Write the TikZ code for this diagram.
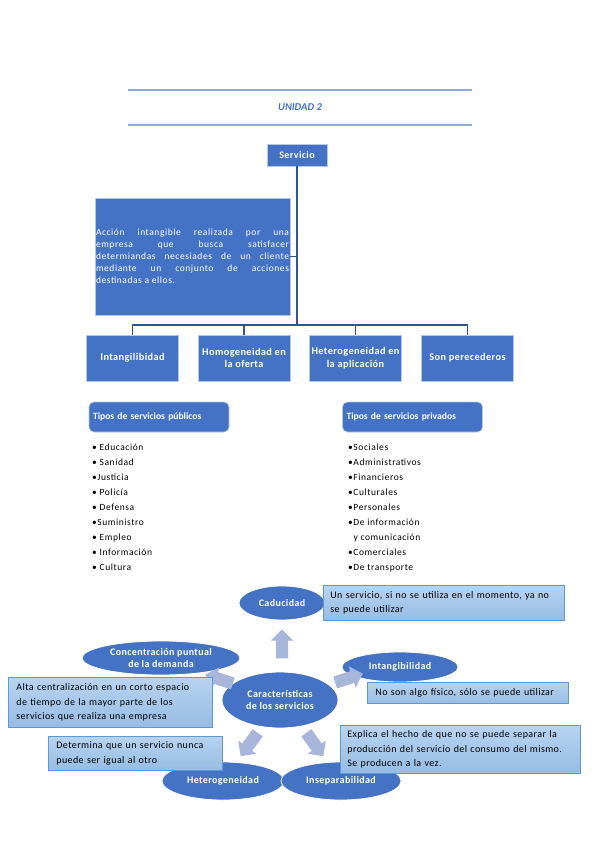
\documentclass[tikz,border=0pt]{standalone}
\usepackage{fontspec}
\setmainfont{Carlito}
\usetikzlibrary{positioning,shapes.geometric,shapes.arrows}

\definecolor{mainblue}{RGB}{68,114,196}
\definecolor{linkblue}{RGB}{47,85,151}
\definecolor{ruleblue}{RGB}{143,170,220}
\definecolor{edgeblue}{RGB}{180,199,231}
\definecolor{noteedge}{RGB}{91,155,213}
\definecolor{notetop}{RGB}{184,211,239}
\definecolor{notebot}{RGB}{150,188,228}
\definecolor{arrowblue}{RGB}{169,182,219}

\newcommand\hdfont{\fontsize{10}{12}\selectfont\bfseries\addfontfeature{LetterSpace=4}}
\newcommand\notefont{\fontsize{10}{14.5}\selectfont\addfontfeature{LetterSpace=4}}
\newcommand\listfont{\fontsize{9.5}{15}\selectfont\addfontfeature{LetterSpace=6}}

\begin{document}
\begin{tikzpicture}[x=1pt, y=-1pt,
    rulebar/.style={draw=ruleblue, line width=1.3pt},
    topbox/.style={draw=edgeblue, line width=0.6pt, fill=mainblue, text=white, font=\hdfont, align=center, inner sep=2pt},
    catbox/.style={topbox, font=\fontsize{10.3}{12.5}\selectfont\bfseries\addfontfeature{LetterSpace=4}, minimum width=92pt, minimum height=46pt},
    typebox/.style={topbox, rounded corners=5pt, minimum width=140pt, minimum height=30pt, align=left, text width=132pt, inner xsep=4pt,
      font=\fontsize{9.6}{11}\selectfont\bfseries},
    elli/.style={ellipse, draw=white, line width=0.8pt, fill=mainblue, text=white, font=\hdfont, align=center, inner sep=0pt},
    notebox/.style={draw=noteedge, line width=0.8pt, top color=notetop, bottom color=notebot, font=\notefont, align=left, inner ysep=0pt, anchor=north west},
    radarr/.style={single arrow, fill=arrowblue, draw=none, inner sep=6pt, minimum height=29pt, single arrow head extend=5pt, single arrow head indent=0pt},
    link/.style={draw=linkblue, line width=1.2pt}
  ]
    \useasboundingbox (0,0) rectangle (599,848);

    % Heading
    \draw[rulebar] (128,90) -- (472,90);
    \draw[rulebar] (128,125) -- (472,125);
    \node[text=mainblue, font=\fontsize{10.5}{12}\selectfont\bfseries\itshape] (unidad) at (300,107) {UNIDAD 2};

    % Org chart
    \node[topbox, minimum width=60pt, minimum height=22pt] (servicio) at (297,155) {Servicio};
    \node[topbox, font=\fontsize{9.5}{12}\selectfont\addfontfeature{LetterSpace=6}, align=justify,
          text width=193pt, inner sep=1pt, minimum height=117pt] (desc) at (192.5,256.5)
      {Acción intangible realizada por una\linebreak empresa que busca satisfacer\linebreak determiandas necesiades de un cliente\linebreak mediante un conjunto de acciones\linebreak destinadas a ellos.};
    \node[catbox] (intang) at (132.5,358) {Intangilibidad};
    \node[catbox] (homog) at (244,358) {Homogeneidad en\\la oferta};
    \node[catbox] (heterog) at (355.5,358) {Heterogeneidad en\\la aplicación};
    \node[catbox] (perec) at (467.5,358) {Son perecederos};
    \coordinate (bar) at (297,325);

    \draw[link] (servicio.south) -- (bar);
    \draw[link] (desc.east) -- (desc.east -| servicio.south);
    \draw[link] (bar) -| (intang.north);
    \draw[link] (bar) -| (homog.north);
    \draw[link] (bar) -| (heterog.north);
    \draw[link] (bar) -| (perec.north);

    % Types of services
    \node[typebox] (publicos) at (159,417) {Tipos de servicios públicos};
    \node[typebox] (privados) at (412.5,417) {Tipos de servicios privados};
    \node[font=\listfont, align=left, anchor=north west, inner sep=0pt] (publist) at (92,444)
      {• Educación\\• Sanidad\\•Justicia\\• Policía\\• Defensa\\•Suministro\\• Empleo\\• Información\\• Cultura};
    \node[font=\listfont, align=left, anchor=north west, inner sep=0pt] (privlist) at (348,444)
      {•Sociales\\•Administrativos\\•Financieros\\•Culturales\\•Personales\\•De información\\\ \ y comunicación\\•Comerciales\\•De transporte};

    % Characteristics cycle
    \node[elli, minimum width=86pt, minimum height=34pt] (caduc) at (282,603) {Caducidad};
    \node[elli, minimum width=158pt, minimum height=34pt] (conc) at (161,658) {Concentración puntual\\de la demanda};
    \node[elli, minimum width=116pt, minimum height=30pt] (intcy) at (400,667) {Intangibilidad};
    \node[elli, minimum width=116pt, minimum height=56pt] (carac) at (280,700) {Características\\de los servicios};
    \node[elli, minimum width=122pt, minimum height=38pt] (heter) at (223,781) {Heterogeneidad};
    \node[elli, minimum width=120pt, minimum height=38pt] (insep) at (341,781) {Inseparabilidad};

    \node[radarr, rotate=90] (aup) at (282,647) {};
    \node[radarr, rotate=162] (aul) at (222,680) {};
    \node[radarr, rotate=18] (aur) at (346,679) {};
    \node[radarr, rotate=234] (all) at (251,742) {};
    \node[radarr, rotate=306] (alr) at (313,742) {};

    \node[notebox, minimum width=241pt, minimum height=35pt, text width=227pt, inner xsep=7pt] (ncad) at (323,585)
      {Un servicio, si no se utiliza en el momento, ya no\\se puede utilizar};
    \node[notebox, minimum width=204pt, minimum height=50pt, text width=188pt, inner xsep=8pt] (nconc) at (8,677)
      {Alta centralización en un corto espacio\\de tiempo de la mayor parte de los\\servicios que realiza una empresa};
    \node[notebox, minimum width=201pt, minimum height=21pt, text width=185pt, inner xsep=8pt] (nint) at (367,682)
      {No son algo físico, sólo se puede utilizar};
    \node[notebox, minimum width=240pt, minimum height=48pt, text width=226pt, inner xsep=7pt] (nins) at (340,725)
      {Explica el hecho de que no se puede separar la\\producción del servicio del consumo del mismo.\\Se producen a la vez.};
    \node[notebox, minimum width=174pt, minimum height=34pt, text width=158pt, inner xsep=8pt] (nhet) at (48,736)
      {Determina que un servicio nunca\\puede ser igual al otro};
\end{tikzpicture}
\end{document}
